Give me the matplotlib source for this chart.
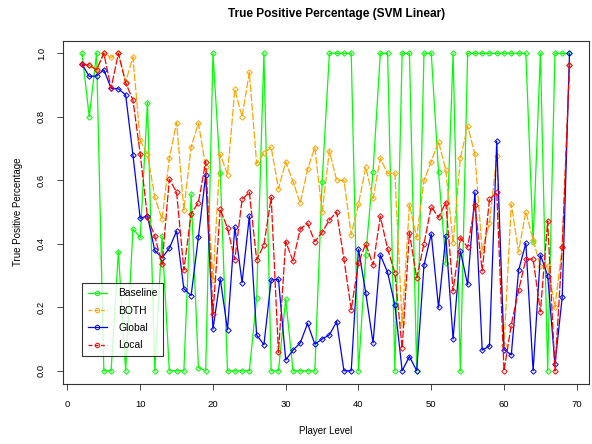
import matplotlib
matplotlib.use("Agg")
import matplotlib.pyplot as plt
from matplotlib.lines import Line2D

plt.rcParams['font.family'] = ['Liberation Sans', 'DejaVu Sans']

levels = list(range(2, 70))

baseline = [1.0, 0.80, 1.0, 0.0, 0.0, 0.375, 0.0, 0.447, 0.42, 0.845,
            0.0, 0.424, 0.0, 0.0, 0.0, 0.557, 0.01, 0.0, 1.0, 0.624,
            0.0, 0.0, 0.0, 0.0, 0.229, 1.0, 0.0, 0.0, 0.226, 0.0,
            0.0, 0.0, 0.0, 0.594, 1.0, 1.0, 1.0, 1.0, 0.0, 0.365,
            0.627, 1.0, 1.0, 0.0, 1.0, 1.0, 0.0, 1.0, 1.0, 0.627,
            0.34, 1.0, 0.0, 1.0, 1.0, 1.0, 1.0, 1.0, 1.0, 1.0,
            1.0, 1.0, 0.407, 1.0, 0.0, 1.0, 1.0, 1.0]

both = [0.967, 0.963, 0.95, 1.0, 0.987, 1.0, 0.91, 0.988, 0.726, 0.682,
        0.547, 0.477, 0.669, 0.782, 0.507, 0.705, 0.78, 0.643, 0.285, 0.682,
        0.618, 0.886, 0.80, 0.94, 0.653, 0.685, 0.704, 0.574, 0.658, 0.596,
        0.528, 0.635, 0.703, 0.499, 0.693, 0.6, 0.6, 0.429, 0.525, 0.641,
        0.543, 0.669, 0.622, 0.622, 0.15, 0.523, 0.42, 0.6, 0.659, 0.722,
        0.632, 0.402, 0.669, 0.771, 0.682, 0.377, 0.466, 0.675, 0.08, 0.525,
        0.375, 0.501, 0.412, 0.33, 0.33, 0.2, 0.389, 0.963]

global_ = [0.966, 0.927, 0.929, 0.948, 0.89, 0.888, 0.869, 0.68, 0.48, 0.488,
           0.379, 0.356, 0.386, 0.44, 0.258, 0.237, 0.422, 0.616, 0.131, 0.29,
           0.129, 0.452, 0.278, 0.487, 0.113, 0.082, 0.286, 0.288, 0.034, 0.065,
           0.088, 0.149, 0.084, 0.1, 0.113, 0.155, 0.0, 0.0, 0.383, 0.245,
           0.088, 0.365, 0.31, 0.208, 0.0, 0.045, 0.0, 0.333, 0.431, 0.2,
           0.423, 0.1, 0.377, 0.272, 0.562, 0.065, 0.078, 0.723, 0.067, 0.05,
           0.316, 0.402, 0.0, 0.365, 0.3, 0.021, 0.232, 1.0]

local = [0.966, 0.962, 0.948, 1.0, 0.89, 1.0, 0.907, 0.853, 0.683, 0.483,
         0.425, 0.335, 0.603, 0.563, 0.317, 0.495, 0.53, 0.659, 0.178, 0.509,
         0.449, 0.35, 0.54, 0.562, 0.35, 0.396, 0.546, 0.058, 0.407, 0.346,
         0.447, 0.464, 0.407, 0.436, 0.475, 0.5, 0.352, 0.193, 0.34, 0.4,
         0.333, 0.486, 0.384, 0.308, 0.071, 0.435, 0.292, 0.4, 0.517, 0.483,
         0.53, 0.252, 0.419, 0.389, 0.522, 0.315, 0.54, 0.562, 0.0, 0.145,
         0.253, 0.351, 0.352, 0.186, 0.472, 0.0, 0.389, 0.962]

series_names = ["Baseline", "BOTH", "Global", "Local"]
colors = ["#00FF00", "#FFA500", "#0000FF", "#FF0000"]
dashes = [None, (6, 1.5), None, (6, 1.5)]

xticks = [0, 10, 20, 30, 40, 50, 60, 70]
yticks = [0.0, 0.2, 0.4, 0.6, 0.8, 1.0]
ytick_labels = ["0.0", "0.2", "0.4", "0.6", "0.8", "1.0"]

fig = plt.figure(figsize=(5.92, 4.44), dpi=100)
ax = fig.add_axes([62.5 / 592, 1 - 383.5 / 444, (589 - 62.5) / 592, (383.5 - 40.6) / 444])

data = [baseline, both, global_, local]
handles = []
for vals, c, d, name in zip(data, colors, dashes, series_names):
    kw = dict(color=c, lw=0.9, marker='D', markersize=2.8, markerfacecolor='none',
              markeredgecolor=c, markeredgewidth=0.7)
    line, = ax.plot(levels, vals, **kw)
    if d is not None:
        line.set_dashes(d)
    h = Line2D([0], [0], color=c, lw=0.9, marker='o', markersize=3.2,
               markerfacecolor='none', markeredgecolor=c, markeredgewidth=0.7)
    if d is not None:
        h.set_dashes((3, 2))
    handles.append(h)

ax.set_xlim(-0.68, 71.68)
ax.set_ylim(-0.04, 1.04)
ax.set_xticks(xticks)
ax.set_xticklabels([str(t) for t in xticks], fontsize=6.8)
ax.set_yticks(yticks)
ax.set_yticklabels(ytick_labels, fontsize=6.8, rotation=90, va='center')
ax.tick_params(direction='out', length=4, width=0.7, color='#444444', pad=8)
for s in ax.spines.values():
    s.set_linewidth(0.8)
    s.set_color('#333333')

ax.set_xlabel("Player Level", fontsize=7, labelpad=12)
ax.set_ylabel("True Positive Percentage", fontsize=7, labelpad=10)
fig.text(337 / 592, 1 - 14 / 444, "True Positive Percentage (SVM Linear)",
         ha='center', va='center', fontsize=8.6, fontweight='bold')

leg = ax.legend(handles, series_names, loc='lower left',
                bbox_to_anchor=(0.037, 0.08), fontsize=7.4, frameon=True,
                fancybox=False, borderpad=0.55, labelspacing=0.72,
                handlelength=1.9, handletextpad=1.1, borderaxespad=0)
leg.get_frame().set_edgecolor('black')
leg.get_frame().set_linewidth(0.8)

fig.savefig("out.png", dpi=100)
